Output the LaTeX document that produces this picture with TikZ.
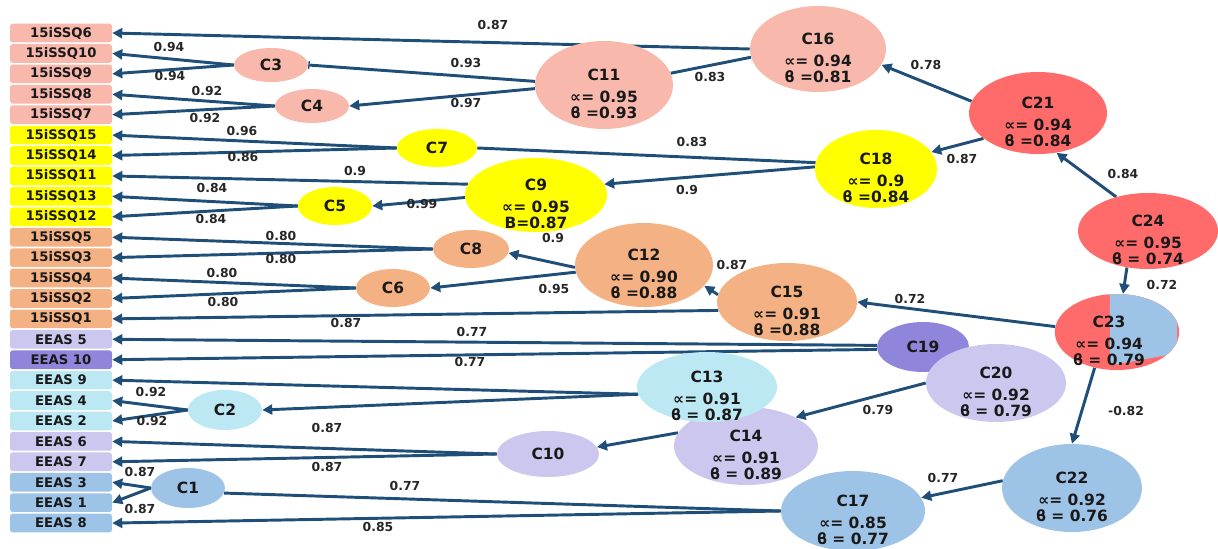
\documentclass[tikz,border=0pt]{standalone}
\usepackage{fontspec}
\setmainfont{DejaVu Sans}
\usetikzlibrary{shapes.geometric,arrows.meta}
\definecolor{pinkC}{HTML}{F8B8AC}
\definecolor{yellowC}{HTML}{FFFF00}
\definecolor{peachC}{HTML}{F4B183}
\definecolor{lavC}{HTML}{CCC7EE}
\definecolor{purpC}{HTML}{8F86DC}
\definecolor{cyanC}{HTML}{BCE8F4}
\definecolor{blueC}{HTML}{9DC3E6}
\definecolor{redC}{HTML}{FF6B6B}
\definecolor{edgeC}{HTML}{1F4E79}
\pgfdeclarelayer{bg}
\pgfsetlayers{bg,main}
\newcommand\threeln[3]{\raisebox{-11pt}[0pt][0pt]{\begin{tabular}{@{}c@{}}#1\\[4.5pt]#2\\#3\end{tabular}}}
\tikzset{
  box/.style={rectangle,rounded corners=2pt,minimum width=76.5pt,minimum height=14pt,inner sep=0pt,
    font=\fontsize{9.9}{10}\selectfont\bfseries,text=black!90},
  ell/.style={ellipse,inner sep=0pt,font=\fontsize{11.6}{11}\selectfont\bfseries,text=black!90},
  esz/.style 2 args={minimum width=#1*1.5pt,minimum height=#2*1.5pt},
  conn/.style={draw=edgeC,line width=2.2pt,-{Triangle[length=7.5pt,width=7.5pt]}},
  plain/.style={draw=edgeC,line width=2.2pt},
  barend/.style={draw=edgeC,line width=2.2pt,-{Bar[width=6pt,line width=1pt]}},
  lbl/.style={font=\fontsize{9.3}{10}\selectfont\bfseries,text=black!85,inner sep=0pt}
}
\begin{document}
\begin{tikzpicture}[x=0.75pt,y=-0.75pt]
\useasboundingbox (0,0) rectangle (1218,549);
% left boxes
\foreach \n/\t/\c [count=\i from 0] in {
  q6/15iSSQ6/pinkC, q10/15iSSQ10/pinkC, q9/15iSSQ9/pinkC, q8/15iSSQ8/pinkC, q7/15iSSQ7/pinkC,
  q15/15iSSQ15/yellowC, q14/15iSSQ14/yellowC, q11/15iSSQ11/yellowC, q13/15iSSQ13/yellowC, q12/15iSSQ12/yellowC,
  q5/15iSSQ5/peachC, q3/15iSSQ3/peachC, q4/15iSSQ4/peachC, q2/15iSSQ2/peachC, q1/15iSSQ1/peachC,
  e5/EEAS 5/lavC, e10/EEAS 10/purpC, e9/EEAS 9/cyanC, e4/EEAS 4/cyanC, e2/EEAS 2/cyanC,
  e6/EEAS 6/lavC, e7/EEAS 7/lavC, e3/EEAS 3/blueC, e1/EEAS 1/blueC, e8/EEAS 8/blueC}
  \node[box,fill=\c] (\n) at (61,{33+20.42*\i}) {\t};

% small ellipses
\node[ell,esz={37}{17},fill=pinkC] (c3) at (271,65) {C3};
\node[ell,esz={37}{17},fill=pinkC] (c4) at (312,106) {C4};
\node[ell,esz={40}{19},fill=yellowC] (c7) at (437,148) {C7};
\node[ell,esz={37}{19},fill=yellowC] (c5) at (335,206) {C5};
\node[ell,esz={38}{19},fill=peachC] (c8) at (471,249) {C8};
\node[ell,esz={37}{19},fill=peachC] (c6) at (393,288) {C6};
\node[ell,esz={37}{20},fill=cyanC] (c2) at (225,410) {C2};
\node[ell,esz={37}{20},fill=blueC] (c1) at (188,488) {C1};
\node[ell,esz={51}{23},fill=lavC] (c10) at (548,454) {C10};
\node[ell,esz={46}{25},fill=purpC] (c19) at (923,347) {C19};
% large ellipses
\node[ell,esz={69}{44},fill=pinkC] (c11) at (604,85) {\threeln{C11}{∝= 0.95}{ϐ =0.93}};
\node[ell,esz={68}{43},fill=pinkC] (c16) at (818,49) {\threeln{C16}{∝= 0.94}{ϐ =0.81}};
\node[ell,esz={69}{41},fill=redC] (c21) at (1038,113) {\threeln{C21}{∝= 0.94}{ϐ =0.84}};
\node[ell,esz={61}{39},fill=yellowC] (c18) at (876,169) {\threeln{C18}{∝= 0.9}{ϐ =0.84}};
\node[ell,esz={70}{38},fill=redC] (c24) at (1148,231) {\threeln{C24}{∝= 0.95}{ϐ = 0.74}};
\node[ell,esz={71}{37},fill=yellowC] (c9) at (536,195) {\threeln{C9}{∝= 0.95}{B=0.87}};
\node[ell,esz={69}{42},fill=peachC] (c12) at (644,265) {\threeln{C12}{∝= 0.90}{ϐ =0.88}};
\node[ell,esz={70}{39},fill=peachC] (c15) at (787,302) {\threeln{C15}{∝= 0.91}{ϐ =0.88}};
\node[ell,esz={70}{39},fill=lavC] (c20) at (996,383) {\threeln{C20}{∝= 0.92}{ϐ = 0.79}};
\node[ell,esz={72}{39},fill=lavC] (c14) at (746,446) {\threeln{C14}{∝= 0.91}{ϐ = 0.89}};
\node[ell,esz={70}{35},fill=cyanC] (c13) at (707,387) {\threeln{C13}{∝= 0.91}{ϐ = 0.87}};
\node[ell,esz={70}{44},fill=blueC] (c22) at (1072,488) {\threeln{C22}{∝= 0.92}{ϐ = 0.76}};
\node[ell,esz={72}{40},fill=blueC] (c17) at (853,511) {\threeln{C17}{∝= 0.85}{ϐ = 0.77}};
\node[ell,esz={55}{38},fill=redC,
  path picture={\fill[blueC]
    ([xshift=-5.5pt,yshift=32pt]path picture bounding box.center) --
    ([xshift=45pt,yshift=32pt]path picture bounding box.center) --
    ([xshift=45pt,yshift=-16pt]path picture bounding box.center) --
    ([xshift=-5pt,yshift=-25pt]path picture bounding box.center) -- cycle;}]
  (c23) at (1117,332) {\threeln{C23}{∝= 0.94}{ϐ = 0.79}\hspace*{12pt}};

% connectors
\begin{pgfonlayer}{bg}
\draw[conn] (c16.west) -- (q6.east);
\draw[plain] (c16.187) -- (c11.10);
\draw[conn] (c3.west) -- (q10.east);
\draw[conn] (c3.west) -- (q9.east);
\draw[barend] (c11.177) -- (c3.east);
\draw[conn] (c11.183) -- (c4.east);
\draw[conn] (c4.west) -- (q8.east);
\draw[conn] (c4.west) -- (q7.east);
\draw[conn] (c7.west) -- (q15.east);
\draw[conn] (c7.west) -- (q14.east);
\draw[plain] (c18.174) -- (c7.east);
\draw[conn] (c18.178) -- (c9.9);
\draw[conn] (c9.171) -- (q11.east);
\draw[conn] (c9.182) -- (c5.east);
\draw[conn] (c5.west) -- (q13.east);
\draw[conn] (c5.west) -- (q12.east);
\draw[conn] (c8.west) -- (q5.east);
\draw[conn] (c8.west) -- (q3.east);
\draw[conn] (c12.182) -- (c8.354);
\draw[conn] (c12.186) -- (c6.east);
\draw[conn] (c6.west) -- (q4.east);
\draw[conn] (c6.west) -- (q2.east);
\draw[conn] (c15.174) -- (c12.341);
\draw[conn] (c15.187) -- (q1.east);
\draw[conn] (c23.175) -- (c15.east);
\draw[conn] (c24.240) -- (c23.81);
\draw[conn] (c24.133) -- (c21.295);
\draw[conn] (c21.170) -- (c16.346);
\draw[conn] (c21.205) -- (c18.17);
\draw[conn] (c23.238) -- (c22.north);
\draw[conn] (c22.174) -- (c17.11);
\draw[conn] (c19.178) -- (e5.east);
\draw[conn] (c19.183) -- (e10.east);
\draw[conn] (c13.186) -- (e9.east);
\draw[conn] (c13.186) -- (c2.east);
\draw[conn] (c2.west) -- (e4.east);
\draw[conn] (c2.west) -- (e2.east);
\draw[conn] (c20.west) -- (c14.30);
\draw[conn] (c14.169) -- (c10.8);
\draw[conn] (c10.west) -- (e6.east);
\draw[conn] (c10.west) -- (e7.east);
\draw[conn] (c1.west) -- (e3.east);
\draw[conn] (c1.west) -- (e1.east);
\draw[plain] (c17.west) -- (c1.352);
\draw[conn] (c17.west) -- (e8.east);
\end{pgfonlayer}

% connector labels
\foreach \x/\y/\t [count=\k] in {
  493/25/0.87, 169/47/0.94, 170/76/0.94, 466/63/0.93, 466/103/0.97,
  207/91/0.92, 205/118/0.92, 710/77/0.83, 242/131/0.96, 243/157/0.86,
  692/142/0.83, 687/190/0.9, 355/171/0.9, 422/204/0.99, 212/188/0.84,
  211/219/0.84, 281/236/0.80, 281/259/0.80, 553/238/0.9, 554/289/0.95,
  222/273/0.80, 223/302/0.80, 732/265/0.87, 346/323/0.87, 910/299/0.72,
  1162/285/0.72, 1123/174/0.84, 926/65/0.78, 962/159/0.87, 1126/411/-0.82,
  943/478/0.77, 472/332/0.77, 470/362/0.77, 878/410/0.79, 151/392/0.92,
  152/421/0.92, 327/428/0.87, 327/467/0.87, 140/472/0.87, 140/509/0.87,
  405/486/0.77, 378/527/0.85}
  \node[lbl] (lab\k) at (\x,\y) {\t};
\end{tikzpicture}
\end{document}
